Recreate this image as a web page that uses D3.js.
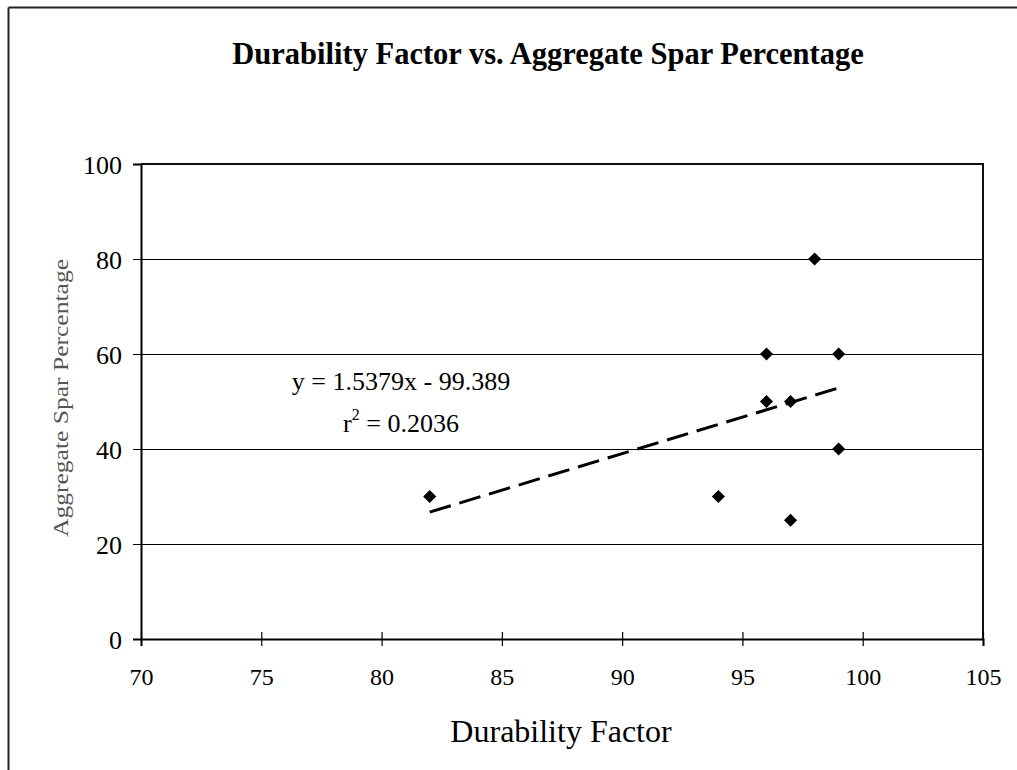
<!DOCTYPE html>
<html>
<head>
<meta charset="utf-8">
<script src="https://cdn.jsdelivr.net/npm/d3@7"></script>
<style>
  body { margin: 0; background: #fff; }
  svg text { font-family: "Liberation Serif", "Times New Roman", serif; }
</style>
</head>
<body>
<div id="chart"></div>
<script>
// durability factor vs aggregate spar %
const durability = [82, 94, 96, 96, 97, 97, 98, 99, 99];
const sparPct = [30, 30, 60, 50, 50, 25, 80, 60, 40];
const xTicks = [70, 75, 80, 85, 90, 95, 100, 105];
const yTicks = [0, 20, 40, 60, 80, 100];
const slope = 1.5379, intercept = -99.389;
const eqText = 'y = 1.5379x - 99.389';
const r2Text = '0.2036';

const W = 1017, H = 770;
const m = { left: 141, right: 983, top: 164, bottom: 639 };

const svg = d3.select('#chart').append('svg')
  .attr('width', W).attr('height', H);

// outer frame (only top + left visible)
svg.append('line').attr('x1', 8.5).attr('x2', W).attr('y1', 7.5).attr('y2', 7.5)
  .attr('stroke', '#222').attr('stroke-width', 2);
svg.append('line').attr('x1', 8.5).attr('x2', 8.5).attr('y1', 7.5).attr('y2', H)
  .attr('stroke', '#222').attr('stroke-width', 2);

svg.append('text')
  .attr('x', 548).attr('y', 64)
  .attr('text-anchor', 'middle')
  .attr('font-size', 30.5).attr('font-weight', 'bold')
  .text('Durability Factor vs. Aggregate Spar Percentage');

const x = d3.scaleLinear().domain([70, 105]).range([m.left, m.right]);
const y = d3.scaleLinear().domain([0, 100]).range([m.bottom, m.top]);

// gridlines
svg.append('g')
  .selectAll('line')
  .data(yTicks.filter((t) => t > 0 && t < 100))
  .enter().append('line')
  .attr('x1', m.left).attr('x2', m.right)
  .attr('y1', (d) => y(d) + 0.5).attr('y2', (d) => y(d) + 0.5)
  .attr('stroke', '#000').attr('stroke-width', 1);

// plot box top/right
svg.append('path')
  .attr('d', `M${m.left},${m.top}H${m.right}V${m.bottom}`)
  .attr('fill', 'none').attr('stroke', '#111').attr('stroke-width', 2);

// x axis
const xAxis = svg.append('g')
  .attr('transform', `translate(0,${m.bottom})`)
  .call(d3.axisBottom(x).tickValues(xTicks).tickSize(7).tickPadding(22));
xAxis.select('.domain').attr('stroke-width', 2);
xAxis.selectAll('.tick line').attr('y1', -7).attr('stroke-width', 1.2);
xAxis.selectAll('.tick text').attr('font-size', 24)
  .attr('font-family', '"Liberation Serif", serif').attr('fill', '#000');

// y axis
const yAxis = svg.append('g')
  .attr('transform', `translate(${m.left},0)`)
  .call(d3.axisLeft(y).tickValues(yTicks).tickSize(8).tickPadding(11));
yAxis.select('.domain').attr('stroke-width', 2);
yAxis.selectAll('.tick text').attr('font-size', 26).attr('dy', '0.35em')
  .attr('font-family', '"Liberation Serif", serif').attr('fill', '#000');

// trendline
const xs = d3.extent(durability);
svg.append('line')
  .attr('x1', x(xs[0])).attr('y1', y(slope * xs[0] + intercept))
  .attr('x2', x(xs[1])).attr('y2', y(slope * xs[1] + intercept))
  .attr('stroke', '#000').attr('stroke-width', 3)
  .attr('stroke-dasharray', '22,9');

// points
const diamond = d3.symbol().type(d3.symbolDiamond2).size(110);
svg.append('g')
  .selectAll('path')
  .data(durability.map((d, i) => [d, sparPct[i]]))
  .enter().append('path')
  .attr('d', diamond)
  .attr('transform', (d) => `translate(${x(d[0])},${y(d[1])})`)
  .attr('fill', '#000');

// equation label
svg.append('text')
  .attr('x', 401).attr('y', 390)
  .attr('text-anchor', 'middle').attr('font-size', 26)
  .text(eqText);
const r2 = svg.append('text')
  .attr('x', 401).attr('y', 432)
  .attr('text-anchor', 'middle').attr('font-size', 26);
r2.append('tspan').text('r');
r2.append('tspan').attr('dy', -12).attr('font-size', 16).text('2');
r2.append('tspan').attr('dy', 12).text(' = ' + r2Text);

// axis titles
svg.append('text')
  .attr('x', 561).attr('y', 742)
  .attr('text-anchor', 'middle').attr('font-size', 32)
  .text('Durability Factor');

svg.append('text')
  .attr('transform', 'translate(68,398) rotate(-90)')
  .attr('text-anchor', 'middle').attr('font-size', 20)
  .attr('fill', '#555')
  .attr('textLength', 278).attr('lengthAdjust', 'spacingAndGlyphs')
  .text('Aggregate Spar Percentage');
</script>
</body>
</html>
